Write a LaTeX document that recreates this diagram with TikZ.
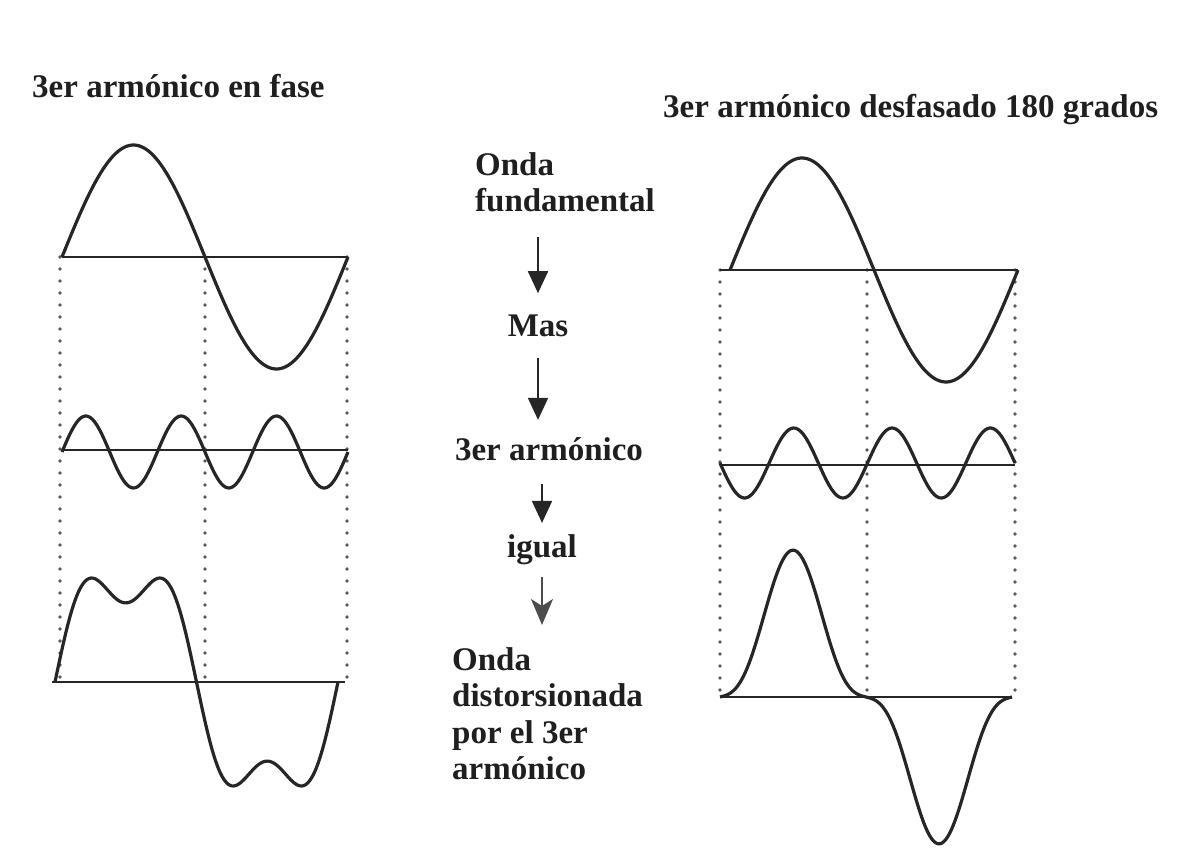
\documentclass[tikz,border=0pt]{standalone}
\usepackage{fontspec}
\setmainfont{Liberation Serif}
\usetikzlibrary{arrows.meta}

\begin{document}
\begin{tikzpicture}[x=1pt, y=-1pt,
  every node/.style={font=\bfseries\fontsize{33}{36.5}\selectfont, text=black!88, inner sep=0pt},
  onda/.style={line width=3.2pt, draw=black!85, line join=round},
  eje/.style={line width=2.4pt, draw=black!85},
  guia/.style={line width=3.6pt, draw=black!65, dash pattern=on 0pt off 12pt, line cap=round},
  flecha/.style={line width=1.8pt, draw=black!85, -{Triangle[length=22pt,width=20pt]}},
  flechab/.style={line width=1.6pt, draw=black!70, -{Stealth[length=26pt,width=22pt,inset=7pt]}}]
  \useasboundingbox (0,0) rectangle (1191,866);

  % Titles
  \node[anchor=base west] (tit1) at (32,98) {3er armónico en fase};
  \node[anchor=base west] (tit2) at (663,118) {3er armónico desfasado 180 grados};

  % Dotted guides
  \foreach \gx in {60,205,347} \draw[guia] (\gx,257) -- (\gx,682);
  \foreach \gx in {720,867,1015} \draw[guia] (\gx,270) -- (\gx,697);

  % Left: in phase
  \draw[eje] (62,257) -- (348,257);
  \draw[onda] plot[domain=0:360, samples=120, smooth] ({62+286/360*\x}, {257-112*sin(\x)});
  \draw[eje] (62,450) -- (348,450);
  \draw[onda] plot[domain=0:360, samples=150, smooth] ({62+286/360*\x}, {452-36*sin(3*\x)});
  \draw[eje] (52,682) -- (345,682);
  \draw[onda] plot[domain=0:360, samples=150, smooth] ({55+283/360*\x}, {682-113*(sin(\x)+0.3*sin(3*\x))});

  % Right: 180 degrees out of phase
  \draw[eje] (720,270) -- (1018,270);
  \draw[onda] plot[domain=0:360, samples=120, smooth] ({730+288/360*\x}, {270-112*sin(\x)});
  \draw[eje] (720,465) -- (1015,465);
  \draw[onda] plot[domain=0:360, samples=150, smooth] ({720+295/360*\x}, {463+35*sin(3*\x)});
  \draw[eje] (720,697) -- (1012,697);
  \draw[onda] plot[domain=0:360, samples=150, smooth] ({720+292/360*\x}, {697-113*(sin(\x)-0.3*sin(3*\x))});

  % Middle column
  \node[anchor=north west, align=left] (fund) at (475,152) {Onda\\fundamental};
  \node[anchor=base] (mas) at (538,337) {Mas};
  \node[anchor=base] (arm) at (549,460) {3er armónico};
  \node[anchor=base] (igual) at (542,557) {igual};
  \node[anchor=north west, align=left] (dist) at (452,647) {Onda\\distorsionada\\por el 3er\\armónico};

  \draw[flecha, shorten <=25pt, shorten >=22pt] (fund.south -| mas.north) -- (mas.north);
  \draw[flecha, shorten <=20pt, shorten >=17pt] (mas.south) -- (mas.south |- arm.north);
  \draw[flecha, shorten <=23pt, shorten >=11pt] (arm.south -| igual.north) -- (igual.north);
  \draw[flechab, shorten <=13pt, shorten >=22pt] (igual.south) -- (igual.south |- dist.north);
\end{tikzpicture}
\end{document}
